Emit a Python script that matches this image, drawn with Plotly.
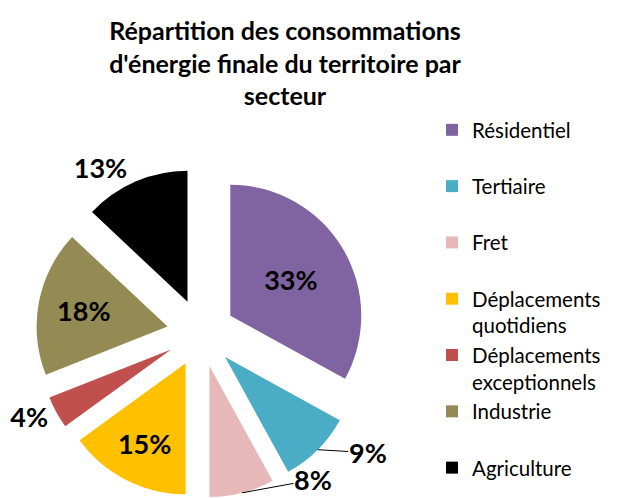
import math
import plotly.graph_objects as go

categories = ["Résidentiel", "Tertiaire", "Fret", "Déplacements quotidiens",
              "Déplacements exceptionnels", "Industrie", "Agriculture"]
legend_names = ["Résidentiel<br> ", "Tertiaire<br> ", "Fret<br> ", "Déplacements<br>quotidiens",
                "Déplacements<br>exceptionnels", "Industrie<br> ", "Agriculture<br> "]
values = [33, 9, 8, 15, 4, 18, 13]
colors = ["#8064A2", "#4BACC6", "#E6B9B8", "#FFC000", "#C0504D", "#948A54", "#000000"]
text_positions = ["inside", "none", "none", "inside", "outside", "inside", "outside"]

W, H = 621, 498
cx, cy, half = 193, 325, 165
PULL = 0.26
r = half / (1 + PULL)

fig = go.Figure(go.Pie(
    labels=legend_names,
    values=values,
    sort=False,
    direction="clockwise",
    rotation=0,
    pull=[PULL] * len(values),
    marker=dict(colors=colors, line=dict(width=0)),
    texttemplate="%{percent:.0%}",
    textposition=text_positions,
    insidetextorientation="horizontal",
    textfont=dict(family="Lato", size=27, color="black", weight="bold"),
    domain=dict(x=[(cx - half) / W, (cx + half) / W],
                y=[1 - (cy + half) / H, 1 - (cy - half) / H]),
    hoverinfo="label+percent",
))

# leader-line labels for the two small slices (positions derived from the slice geometry)
total = sum(values)
annotations = []
label_offsets = {1: (50, 3), 2: (71, -13)}
cum = 0
for i, v in enumerate(values):
    mid = (cum + v / 2) / total * 2 * math.pi
    cum += v
    if i in label_offsets:
        vx = cx + PULL * r * math.sin(mid)
        vy = cy - PULL * r * math.cos(mid)
        tx = vx + r * math.sin(mid)
        ty = vy - r * math.cos(mid)
        ax, ay = label_offsets[i]
        annotations.append(dict(
            x=tx / W, y=1 - ty / H, xref="paper", yref="paper",
            text=f"{round(v / total * 100)}%",
            showarrow=True, arrowhead=0, arrowwidth=1, arrowcolor="black",
            ax=ax, ay=ay, standoff=0, borderpad=0,
            font=dict(family="Lato", size=27, color="black", weight="bold"),
        ))

fig.update_layout(
    width=W, height=H,
    margin=dict(l=0, r=0, t=0, b=0, autoexpand=False),
    paper_bgcolor="white",
    plot_bgcolor="white",
    title=dict(
        text="Répartition des consommations<br>d'énergie finale du territoire par<br>secteur",
        x=277 / W, xanchor="center", y=0.935, yanchor="top",
        font=dict(family="Lato", size=25, color="black", weight="bold"),
    ),
    legend=dict(
        x=424 / W, xanchor="left", y=1 - 102 / H, yanchor="top",
        font=dict(family="Lato", size=20.5, color="black"),
        valign="top",
        traceorder="normal",
    ),
    annotations=annotations,
    showlegend=True,
)

fig.write_html("out.html")
